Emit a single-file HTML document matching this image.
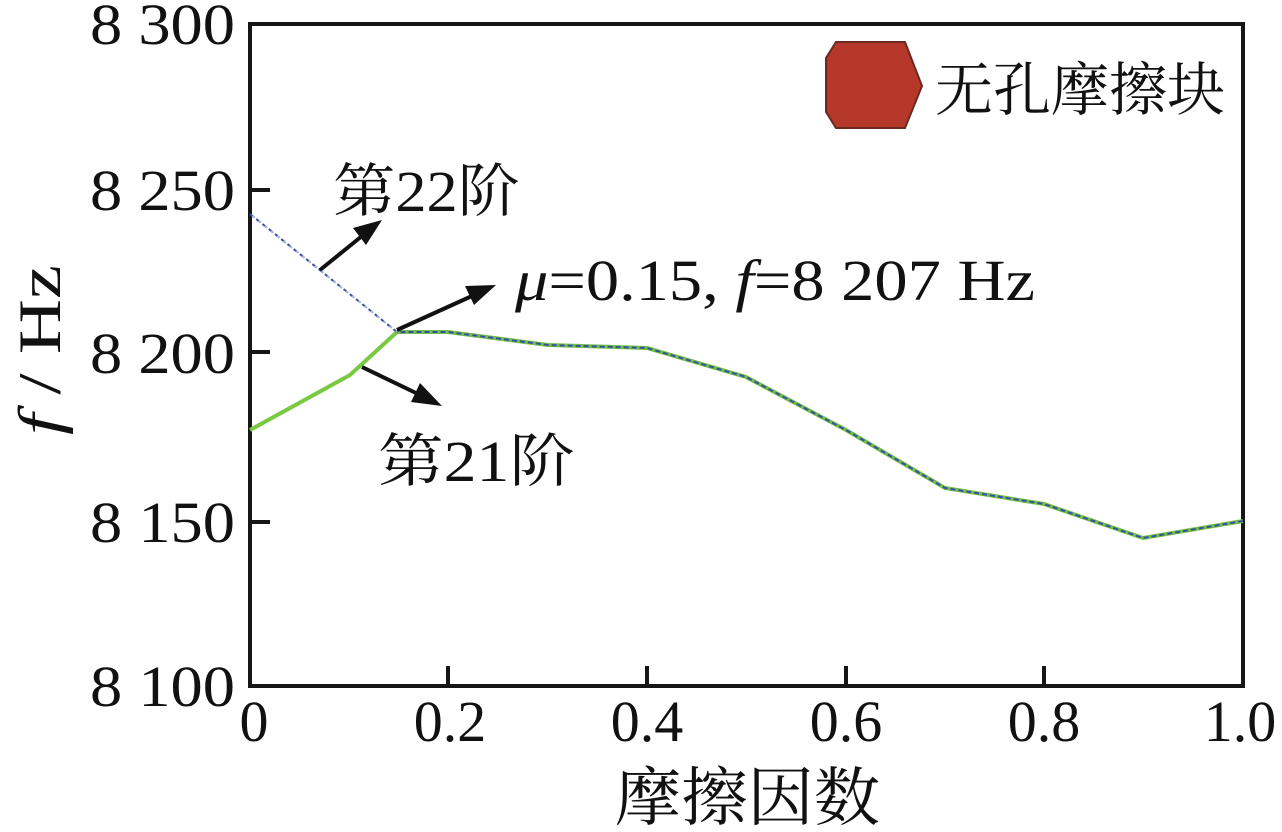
<!DOCTYPE html>
<html><head><meta charset="utf-8"><style>
html,body{margin:0;padding:0;background:#fff;}
svg{display:block;}
text{font-family:"Liberation Serif","Noto Serif CJK SC",serif;fill:#111;}
.cjk{font-family:"Liberation Serif","Noto Serif CJK SC","Noto Sans CJK SC",serif;}
</style></head><body>
<svg width="1282" height="832" viewBox="0 0 1282 832" xmlns="http://www.w3.org/2000/svg">
<rect x="250" y="24" width="993" height="662" fill="none" stroke="#161616" stroke-width="4"/>
<g stroke="#161616" stroke-width="4">
<line x1="250" y1="190" x2="270" y2="190"/>
<line x1="250" y1="352" x2="270" y2="352"/>
<line x1="250" y1="522" x2="270" y2="522"/>
<line x1="448" y1="686" x2="448" y2="666"/>
<line x1="647" y1="686" x2="647" y2="666"/>
<line x1="846" y1="686" x2="846" y2="666"/>
<line x1="1044" y1="686" x2="1044" y2="666"/>
</g>
<g font-size="58">
<text x="90" y="44" textLength="145" lengthAdjust="spacingAndGlyphs">8 300</text>
<text x="90" y="210" textLength="145" lengthAdjust="spacingAndGlyphs">8 250</text>
<text x="90" y="373" textLength="145" lengthAdjust="spacingAndGlyphs">8 200</text>
<text x="90" y="542" textLength="145" lengthAdjust="spacingAndGlyphs">8 150</text>
<text x="90" y="706" textLength="145" lengthAdjust="spacingAndGlyphs">8 100</text>
</g>
<g font-size="58" text-anchor="middle">
<text x="254" y="741">0</text>
<text x="450" y="741">0.2</text>
<text x="647" y="741">0.4</text>
<text x="846" y="741">0.6</text>
<text x="1044" y="741">0.8</text>
<text x="1240" y="741">1.0</text>
</g>
<text class="cjk" x="615" y="820" font-size="64" textLength="265" lengthAdjust="spacingAndGlyphs">摩擦因数</text>
<text transform="translate(60,435) rotate(-90)" font-size="60" textLength="170" lengthAdjust="spacingAndGlyphs"><tspan font-style="italic">f</tspan> / Hz</text>
<polyline fill="none" stroke="#7ac943" stroke-width="4" points="250,430 350,375 397,332"/>
<polyline fill="none" stroke="#6fbf4a" stroke-width="4" points="397,332 448,332 548,345 647,348 746,377 846,430 945,488 1044,504 1143,538 1243,521"/>
<polyline fill="none" stroke="#3b4fa0" stroke-width="2" stroke-dasharray="5,3" points="250,214 397,332 448,332 548,345 647,348 746,377 846,430 945,488 1044,504 1143,538 1243,521"/>
<polyline fill="none" stroke="#aab4e0" stroke-width="2" stroke-dasharray="3,5" stroke-dashoffset="5" points="250,214 397,332"/>
<g stroke="#111" stroke-width="4">
<line x1="320" y1="270" x2="362" y2="236"/>
<line x1="397" y1="330" x2="472" y2="296"/>
<line x1="362" y1="367" x2="418" y2="394"/>
</g>
<g fill="#111">
<polygon points="382,220 353,228 366,245"/>
<polygon points="496,285 465,286 474,305"/>
<polygon points="442,406 420,383 411,402"/>
</g>
<text class="cjk" x="333" y="211" font-size="58" textLength="187" lengthAdjust="spacingAndGlyphs">第22阶</text>
<text class="cjk" x="378" y="481" font-size="58" textLength="197" lengthAdjust="spacingAndGlyphs">第21阶</text>
<text x="515" y="300" font-size="58" textLength="520" lengthAdjust="spacingAndGlyphs"><tspan font-style="italic">μ</tspan>=0.15, <tspan font-style="italic">f</tspan>=8 207 Hz</text>
<polygon points="836,42 905,42 922,86 905,128 836,128 826,112 826,58" fill="#b5382a" stroke="#6b2a20" stroke-width="2"/>
<text class="cjk" x="935" y="110" font-size="58" textLength="290" lengthAdjust="spacingAndGlyphs">无孔摩擦块</text>
</svg>
</body></html>
